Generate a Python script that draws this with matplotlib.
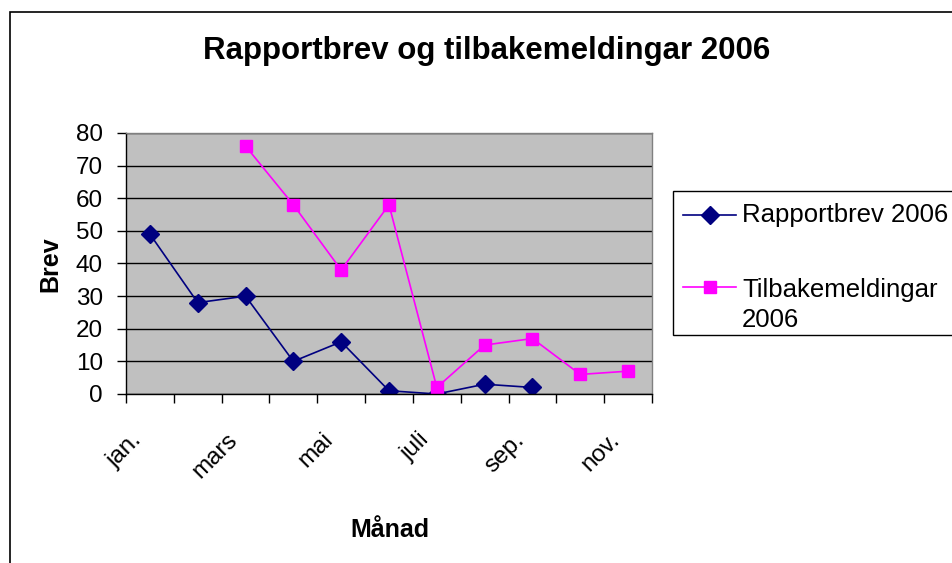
import numpy as np
import matplotlib
matplotlib.use("Agg")
import matplotlib.pyplot as plt
from matplotlib.patches import Rectangle
from matplotlib.lines import Line2D
from matplotlib.transforms import ScaledTranslation

plt.rcParams['font.family'] = ['Liberation Sans', 'DejaVu Sans']

# months shown on the axis (only every other one gets a label)
months = ['jan.', 'feb.', 'mars', 'april', 'mai', 'juni', 'juli',
          'aug.', 'sep.', 'okt.', 'nov.']
rapportbrev = [49, 28, 30, 10, 16, 1, 0, 3, 2, np.nan, np.nan]
tilbakemeld = [np.nan, np.nan, 76, 58, 38, 58, 2, 15, 17, 6, 7]

W, H = 952, 563
fig = plt.figure(figsize=(W / 100, H / 100), dpi=100)

def fx(px):
    return px / W

def fy(py):
    return 1 - py / H

# outer chart frame (runs off the right and bottom edge)
fig.patches.append(Rectangle((fx(10), -0.1), 1.2, fy(12) + 0.1,
                             transform=fig.transFigure, fill=False,
                             edgecolor='black', linewidth=1.2))

ax = fig.add_axes([fx(126), fy(394), 526 / W, 261 / H])
ax.set_facecolor('#C0C0C0')

x = np.arange(len(months))
l1, = ax.plot(x, rapportbrev, color='#000080', marker='D', markersize=9.5,
              linewidth=1.2)
l2, = ax.plot(x, tilbakemeld, color='#FF00FF', marker='s', markersize=9,
              linewidth=1.2)

ax.set_xlim(-0.5, len(months) - 0.5)
ax.set_ylim(0, 80)
ax.set_yticks(np.arange(0, 81, 10))
ax.yaxis.grid(True, color='black', linewidth=1)
ax.set_axisbelow(True)

ax.set_xticks(x[::2])
ax.set_xticklabels(months[::2], rotation=45, ha='right',
                   rotation_mode='anchor', fontsize=17.5)
ax.set_xticks(np.arange(-0.5, len(months), 1), minor=True)
ax.tick_params(axis='x', which='major', length=0, pad=25)
ax.tick_params(axis='x', which='minor', length=6.5, width=1, direction='out')
ax.tick_params(axis='y', length=6.5, width=1, labelsize=17.5, pad=10)
shift = ScaledTranslation(-19 / 100, 0, fig.dpi_scale_trans)
for lab in ax.get_xticklabels():
    lab.set_transform(lab.get_transform() + shift)

for s in ['left', 'bottom']:
    ax.spines[s].set_color('black')
    ax.spines[s].set_linewidth(1)
for s in ['top', 'right']:
    ax.spines[s].set_color('#808080')
    ax.spines[s].set_linewidth(1)

fig.text(fx(487), fy(59), 'Rapportbrev og tilbakemeldingar 2006',
         ha='center', va='baseline', fontsize=22.5, fontweight='bold')
fig.text(fx(50), fy(264), 'Brev', rotation=90, ha='center',
         va='center', fontsize=18, fontweight='bold')
fig.text(fx(390), fy(530), 'Månad', ha='center', va='center',
         fontsize=18, fontweight='bold')

# legend box, drawn by hand so the handle sits on the first text line
fig.patches.append(Rectangle((fx(673), fy(335)), fx(300), (335 - 191) / H,
                             transform=fig.transFigure, facecolor='white',
                             edgecolor='black', linewidth=1))
entries = [(l1, 215, ['Rapportbrev 2006'], 222),
           (l2, 287, ['Tilbakemeldingar', '2006'], 297)]
for line, hy, texts, base in entries:
    fig.lines.append(Line2D([fx(683), fx(709.5), fx(736)], [fy(hy)] * 3,
                            transform=fig.transFigure,
                            color=line.get_color(), linewidth=1.2,
                            marker=line.get_marker(), markevery=[1],
                            markersize=line.get_markersize() - 0.5))
    for i, t in enumerate(texts):
        fig.text(fx(742), fy(base + 30 * i), t, ha='left', va='baseline',
                 fontsize=18.5)

fig.savefig('out.png', dpi=100)
